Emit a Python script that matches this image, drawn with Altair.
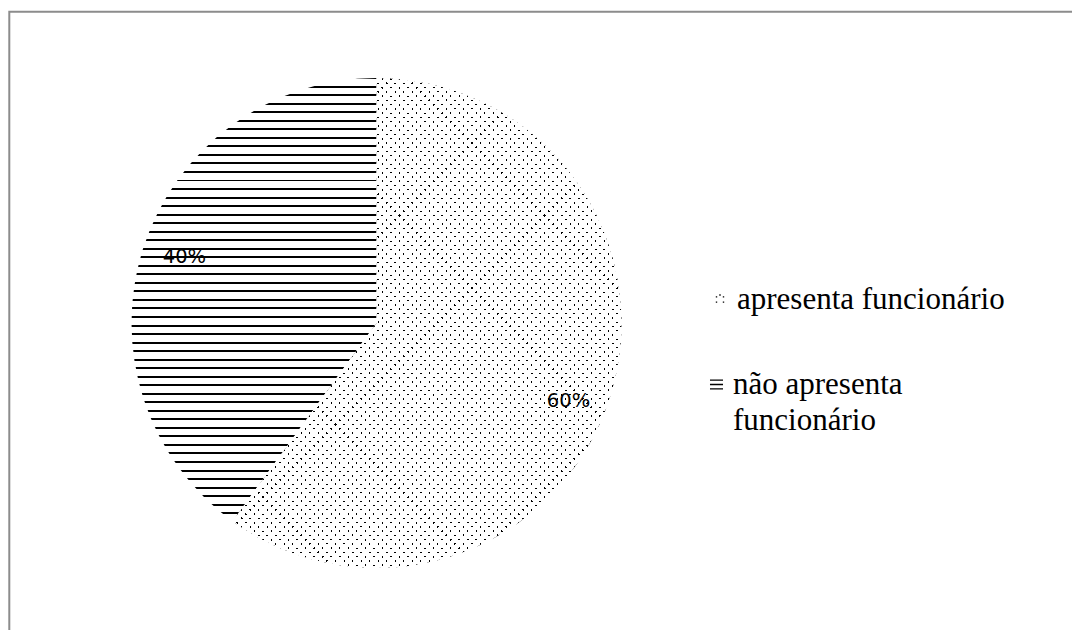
import math
import altair as alt
import pandas as pd

# ---- data -------------------------------------------------------------
categories = ["apresenta funcionário", "não apresenta funcionário"]
shares = [60, 40]
pct_labels = ["60%", "40%"]
legend_lines = [["apresenta funcionário"], ["não apresenta", "funcionário"]]

# ---- layout -----------------------------------------------------------
W, H = 1072, 630
CX, CY, R = 376.5, 323.0, 245.0          # pie centre and radius (px)
LABEL_R = 205.0                           # distance of the % labels
STRIPE_PERIOD, STRIPE_Y0, STRIPE_W = 8.53, 86.67, 2.0
DOT_PERIOD, DOT_U0, DOT_V0, DOT_W = 8.53, 470.0, 303.4, 2.05


def sector_bbox(a0, a1, r):
    """Bounding box of a pie sector (degrees clockwise from 12 o'clock),
    relative to the centre, centre point included."""
    pts = [(0.0, 0.0)]
    for a in [a0, a1] + [k * 90 for k in range(5) if a0 < k * 90 < a1]:
        t = math.radians(a)
        pts.append((r * math.sin(t), -r * math.cos(t)))
    xs = [p[0] for p in pts]
    ys = [p[1] for p in pts]
    return min(xs), min(ys), max(xs), max(ys)


def band_stops(lo, span, origin, period, width, on, off):
    """Hard-edged repeating bands as gradient stops over [lo, lo+span]."""
    stops = [(0.0, off)]
    k0 = math.floor((lo - origin) / period) - 1
    k1 = math.ceil((lo + span - origin) / period) + 1
    for k in range(k0, k1 + 1):
        c = origin + k * period
        a = (c - width / 2 - lo) / span
        b = (c + width / 2 - lo) / span
        if b <= 0 or a >= 1:
            continue
        a, b = max(a, 0.0), min(b, 1.0)
        stops += [(a, off), (a, on), (b, on), (b, off)]
    stops.append((1.0, off))
    return [{"offset": round(o, 6), "color": c} for o, c in stops]


# slice angles from the shares
total = sum(shares)
cut = 360.0 * shares[0] / total

# horizontal stripes for the second slice
sx0, sy0, sx1, sy1 = sector_bbox(cut, 360.0, R)
s_top, s_h = CY + sy0, sy1 - sy0
stripes = {
    "gradient": "linear", "x1": 0, "y1": 0, "x2": 0, "y2": 1,
    "stops": band_stops(s_top, s_h, STRIPE_Y0, STRIPE_PERIOD, STRIPE_W,
                        "#000000", "#ffffff"),
}

# dotted texture for the first slice: diagonal lines crossed by a
# white mask with diagonal gaps in the other direction
dx0, dy0, dx1, dy1 = sector_bbox(0.0, cut, R)
X0, Y0, w, h = CX + dx0, CY + dy0, dx1 - dx0, dy1 - dy0
s = (w + h) / (w * w + h * h)
dot_lines = {
    "gradient": "linear", "x1": 0, "y1": 0, "x2": w * s, "y2": h * s,
    "stops": band_stops(X0 + Y0, w + h, DOT_U0, DOT_PERIOD, DOT_W,
                        "#000000", "#ffffff"),
}
dot_mask = {
    "gradient": "linear", "x1": 0, "y1": 1, "x2": w * s, "y2": 1 - h * s,
    "stops": band_stops(X0 - Y0 - h, w + h, DOT_V0, DOT_PERIOD, DOT_W,
                        "rgba(255,255,255,0)", "#ffffff"),
}


def squares(centres, half):
    return " ".join(
        f"M{x - half:.3f},{y - half:.3f}h{2 * half:.3f}v{2 * half:.3f}h{-2 * half:.3f}Z"
        for x, y in centres
    )


# legend swatches as custom symbol paths (unit box -1..1 = 14 px)
dots_symbol = squares([(-0.5, -0.3), (0.0, -0.57), (0.5, -0.3),
                       (-0.5, 0.45), (0.5, 0.45)], 0.1)
stripes_symbol = " ".join(
    f"M-0.93,{y - 0.09:.3f}H0.93V{y + 0.09:.3f}H-0.93Z" for y in (-0.64, 0.0, 0.64)
)

df = pd.DataFrame({
    "categoria": categories,
    "valor": shares,
    "rotulo": pct_labels,
    "ordem": list(range(len(categories))),
})
one = pd.DataFrame({"k": [0]})

is_first = alt.datum.categoria == categories[0]

base = alt.Chart(df).encode(
    theta=alt.Theta("valor:Q", stack=True),
    order=alt.Order("ordem:Q"),
    x=alt.value(CX),
    y=alt.value(CY),
)

pie = base.mark_arc(radius=R).encode(
    fill=alt.condition(is_first, alt.value(dot_lines), alt.value(stripes))
)
pie_mask = base.mark_arc(radius=R).encode(
    fill=alt.condition(is_first, alt.value(dot_mask), alt.value("transparent"))
)
labels = base.mark_text(
    radius=LABEL_R, thetaOffset=0.0436, dy=6, font="DejaVu Sans", fontSize=19.5,
    color="#000000", align="center", baseline="middle",
).encode(text="rotulo:N")

frame = alt.Chart(one).mark_rect(
    fillOpacity=0, stroke="#8c8c8c", strokeWidth=2
).encode(x=alt.value(9.3), y=alt.value(11.8), x2=alt.value(W + 40), y2=alt.value(H + 40))

sym_dots = alt.Chart(one).mark_point(
    shape=dots_symbol, filled=True, size=196, color="#000000", opacity=1
).encode(x=alt.value(720.0), y=alt.value(299.0))
sym_stripes = alt.Chart(one).mark_point(
    shape=stripes_symbol, filled=True, size=196, color="#000000", opacity=1
).encode(x=alt.value(716.5), y=alt.value(384.5))

leg_style = dict(font="Liberation Serif", fontSize=31, color="#000000",
                 align="left", baseline="alphabetic", lineHeight=36)
leg1 = alt.Chart(one).mark_text(**leg_style).encode(
    text=alt.value(legend_lines[0][0]), x=alt.value(737.0), y=alt.value(309.0)
)
leg2 = alt.Chart(one).mark_text(**leg_style).encode(
    text=alt.value(legend_lines[1]), x=alt.value(733.0), y=alt.value(394.0)
)

chart = alt.layer(
    frame, pie, pie_mask, labels, sym_dots, sym_stripes, leg1, leg2
).properties(
    width=W, height=H, padding=0, autosize="none"
).configure_view(stroke=None)

chart.save("out.html", embed_options={"renderer": "svg", "actions": False})
